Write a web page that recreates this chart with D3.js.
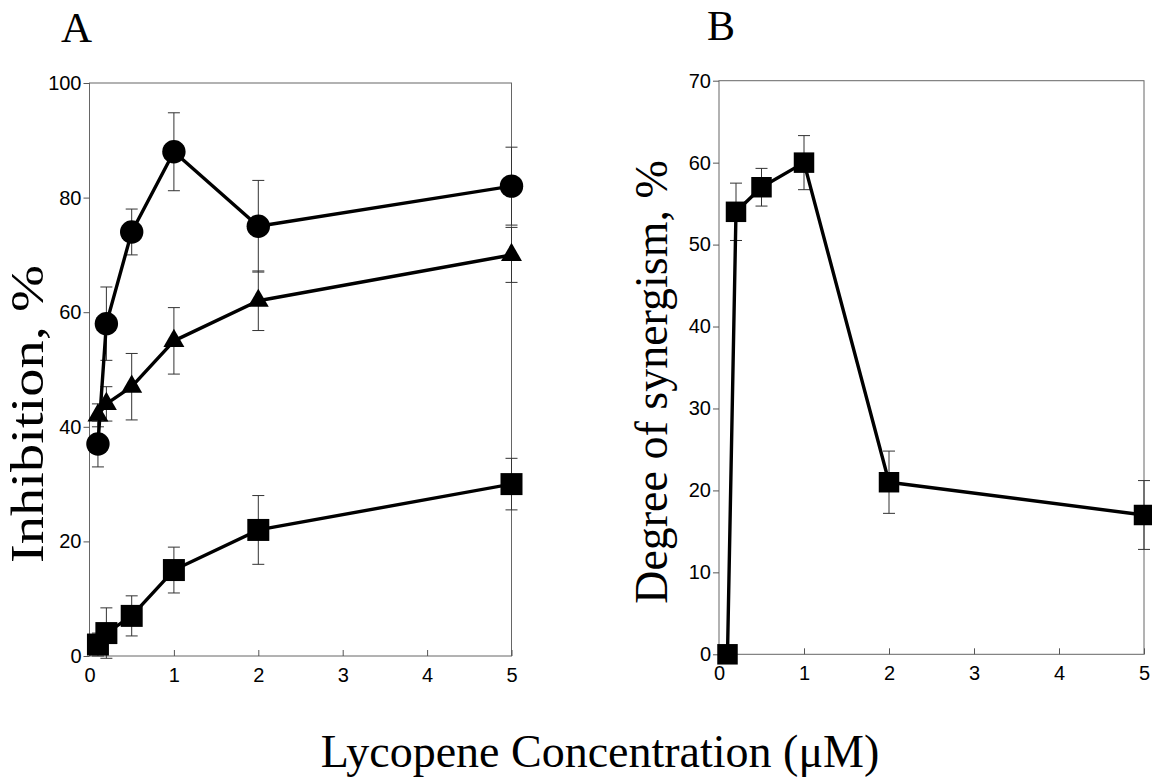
<!DOCTYPE html>
<html lang="en">
<head>
<meta charset="UTF-8">
<title>Lycopene inhibition and synergism</title>
<script src="https://d3js.org/d3.v7.min.js"></script>
<style>
    body { margin: 0; background: #fff; }
    .tick text { fill: #000; }
    .tick line { stroke: #555; }
    .serif { font-family: "Liberation Serif", "Times New Roman", serif; fill: #000; }
</style>
</head>
<body>
<svg width="1152" height="784"></svg>
<script>
    // concentrations (uM)
    const conc = [0.1, 0.2, 0.5, 1, 2, 5];

    // panel A - inhibition, %
    const circleVals = [37, 58, 74, 88, 75, 82];
    const circleErr = [4, 6.4, 4, 6.8, 8, 6.8];
    const triangleVals = [42, 44, 47, 55, 62, 70];
    const triangleErr = [2, 3, 5.8, 5.8, 5.2, 4.8];
    const squareVals = [2, 4, 7, 15, 22, 30];
    const squareErr = [2, 4.4, 3.5, 4, 6, 4.5];

    // panel B - degree of synergism, %
    const synergyVals = [0, 54, 57, 60, 21, 17];
    const synergyErr = [0, 3.5, 2.3, 3.3, 3.8, 4.2];

    const xTicks = [0, 1, 2, 3, 4, 5];
    const yTicksA = [0, 20, 40, 60, 80, 100];
    const yTicksB = [0, 10, 20, 30, 40, 50, 60, 70];

    const svg = d3.select("svg");
    const sans = "'Liberation Sans', Arial, sans-serif";

    function drawPanel(xr, yr, ymax, yTicks, seriesList) {
        const x = d3.scaleLinear().domain([0, 5]).range(xr);
        const y = d3.scaleLinear().domain([0, ymax]).range(yr);
        const g = svg.append("g");

        // frame
        g.append("rect")
            .attr("x", xr[0]).attr("y", yr[1])
            .attr("width", xr[1] - xr[0]).attr("height", yr[0] - yr[1])
            .attr("fill", "none").attr("stroke", "#666").attr("stroke-width", 1);

        g.append("g").attr("transform", "translate(0," + yr[0] + ")")
            .call(d3.axisBottom(x).tickValues(xTicks).tickFormat(d3.format("d"))
                .tickSize(-6).tickPadding(12))
            .attr("font-size", 20).attr("font-family", sans)
            .call(s => s.select(".domain").remove());

        g.append("g").attr("transform", "translate(" + xr[0] + ",0)")
            .call(d3.axisLeft(y).tickValues(yTicks).tickFormat(d3.format("d"))
                .tickSize(6).tickPadding(2))
            .attr("font-size", 20).attr("font-family", sans)
            .call(s => s.select(".domain").remove());

        seriesList.forEach(function (ser) {
            const pts = conc.map((c, i) => ({ c: c, v: ser.vals[i], e: ser.err[i] }));

            const eb = g.append("g").attr("stroke", "#333").attr("stroke-width", 1);
            pts.forEach(function (p) {
                if (!p.e) return;
                const cx = x(p.c);
                eb.append("line").attr("x1", cx).attr("x2", cx)
                    .attr("y1", y(p.v - p.e)).attr("y2", y(p.v + p.e));
                [p.v - p.e, p.v + p.e].forEach(function (v) {
                    eb.append("line").attr("x1", cx - 6).attr("x2", cx + 6)
                        .attr("y1", y(v)).attr("y2", y(v));
                });
            });

            g.append("path").datum(pts)
                .attr("fill", "none").attr("stroke", "#000").attr("stroke-width", 3.4)
                .attr("stroke-linejoin", "round")
                .attr("d", d3.line().x(d => x(d.c)).y(d => y(d.v)));

            g.append("g").selectAll("path").data(pts).enter().append("path")
                .attr("transform", d => "translate(" + x(d.c) + "," + y(d.v) + ")")
                .attr("d", d3.symbol().type(ser.shape).size(ser.size))
                .attr("fill", "#000");
        });
    }

    drawPanel([89.5, 511.5], [656, 83], 100, yTicksA, [
        { vals: squareVals, err: squareErr, shape: d3.symbolSquare, size: 484 },
        { vals: triangleVals, err: triangleErr, shape: d3.symbolTriangle, size: 190 },
        { vals: circleVals, err: circleErr, shape: d3.symbolCircle, size: 430 }
    ]);

    drawPanel([719, 1144], [654.3, 80.7], 70, yTicksB, [
        { vals: synergyVals, err: synergyErr, shape: d3.symbolSquare, size: 420 }
    ]);

    // panel letters and axis titles
    svg.append("text").attr("class", "serif").attr("x", 61).attr("y", 42)
        .attr("font-size", 43).text("A");
    svg.append("text").attr("class", "serif").attr("x", 707).attr("y", 40)
        .attr("font-size", 42).text("B");

    svg.append("text").attr("class", "serif")
        .attr("transform", "translate(43,414) rotate(-90)")
        .attr("text-anchor", "middle").attr("font-size", 46)
        .attr("textLength", 298).attr("lengthAdjust", "spacingAndGlyphs")
        .text("Inhibition, %");

    svg.append("text").attr("class", "serif")
        .attr("transform", "translate(667,382) rotate(-90)")
        .attr("text-anchor", "middle").attr("font-size", 46)
        .text("Degree of synergism, %");

    svg.append("text").attr("class", "serif")
        .attr("x", 600).attr("y", 767)
        .attr("text-anchor", "middle").attr("font-size", 46)
        .text("Lycopene Concentration (\u03BCM)");
</script>
</body>
</html>
